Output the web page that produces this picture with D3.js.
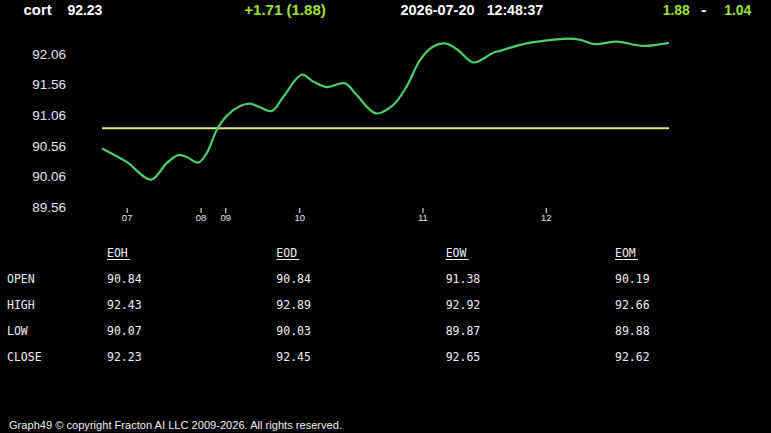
<!DOCTYPE html>
<html>
<head>
<meta charset="utf-8">
<script src="https://cdn.jsdelivr.net/npm/d3@7/dist/d3.min.js"></script>
<style>
html,body{margin:0;padding:0;background:#000;}
svg{display:block;}
</style>
</head>
<body>
<svg id="chart" width="771" height="433"></svg>
<script>
// ---- data ----
const symbol = "cort";
const lastPrice = "92.23";
const change = "+1.71  (1.88)";
const dateStr = "2026-07-20";
const timeStr = "12:48:37";
const rangeLeft = "1.88";
const rangeRight = "1.04";

// x positions are in session-bar units (compressed intraday time)
const seriesX = [0, 2.0, 3.98, 5.25, 6.19, 6.87, 7.81, 8.49, 9.31, 10.12, 11.2, 12.0, 12.82, 13.77, 14.71, 16.2, 17.14, 18.23, 19.71, 20.66, 22.23, 23.63, 24.72, 25.8, 26.88, 27.83, 28.9, 30.12, 31.75, 32.29, 34.18, 36.08, 37.83, 38.78, 40.0, 41.76, 43.91, 46];
const seriesY = [90.51, 90.29, 90.00, 90.27, 90.40, 90.37, 90.28, 90.43, 90.81, 91.04, 91.20, 91.24, 91.18, 91.12, 91.35, 91.71, 91.60, 91.51, 91.57, 91.38, 91.08, 91.22, 91.52, 91.95, 92.17, 92.22, 92.11, 91.91, 92.07, 92.10, 92.21, 92.27, 92.30, 92.28, 92.21, 92.25, 92.18, 92.23];
const refLevel = 90.84;

const yTicks = [89.56, 90.06, 90.56, 91.06, 91.56, 92.06];
const xTickPos = [2, 8, 10, 16, 26, 36];
const xTickLabels = ["07", "08", "09", "10", "11", "12"];

const tableRows = ["OPEN", "HIGH", "LOW", "CLOSE"];
const tableCols = ["EOH", "EOD", "EOW", "EOM"];
const colEOH = [90.84, 92.43, 90.07, 92.23];
const colEOD = [90.84, 92.89, 90.03, 92.45];
const colEOW = [91.38, 92.92, 89.87, 92.65];
const colEOM = [90.19, 92.66, 89.88, 92.62];
const tableValues = [colEOH, colEOD, colEOW, colEOM];

const footer = "Graph49 \u00A9 copyright Fracton AI LLC 2009-2026. All rights reserved.";

// ---- drawing ----
const svg = d3.select("#chart");
svg.append("rect").attr("width", 771).attr("height", 433).attr("fill", "#000");

const x = d3.scaleLinear().domain([0, 46]).range([102, 669]);
const y = d3.scaleLinear().domain([89.56, 92.56]).range([206.7, 22.6]);

const GREEN_TXT = "#9fe22e";
const hdrFont = "'Liberation Sans', Arial, sans-serif";

// header
function hText(t, x0, w, color) {
  svg.append("text").attr("x", x0).attr("y", 14.6)
    .attr("font-family", hdrFont).attr("font-weight", "bold").attr("font-size", 15)
    .attr("fill", color).attr("textLength", w).attr("lengthAdjust", "spacingAndGlyphs")
    .text(t);
}
hText(symbol, 23.6, 28, "#fff");
hText(lastPrice, 67.4, 35, "#fff");
hText(change, 244.3, 81.5, GREEN_TXT);
hText(dateStr, 400.5, 74, "#fff");
hText(timeStr, 486.7, 56.5, "#fff");
hText(rangeLeft, 662.7, 27, GREEN_TXT);
hText("-", 701, 5.5, "#fff");
hText(rangeRight, 724.2, 27, GREEN_TXT);

// y axis labels
const yAxis = d3.axisLeft(y).tickValues(yTicks).tickSize(0).tickPadding(0)
  .tickFormat(d3.format(".2f"));
const gy = svg.append("g").attr("transform", "translate(66,0)").call(yAxis);
gy.select(".domain").remove();
gy.selectAll("text").attr("fill", "#e6e6e6").attr("font-size", 13.5)
  .attr("font-family", hdrFont).attr("dy", "0.35em");

// x axis
const xAxis = d3.axisBottom(x).tickValues(xTickPos).tickSize(5).tickPadding(1)
  .tickFormat((d, i) => xTickLabels[i]);
const gx = svg.append("g").attr("transform", "translate(0,208)").call(xAxis);
gx.select(".domain").remove();
gx.selectAll("line").attr("stroke", "#fff").attr("stroke-width", 1);
gx.selectAll("text").attr("fill", "#e6e6e6").attr("font-size", 9.5)
  .attr("font-family", hdrFont);

// reference line
svg.append("line")
  .attr("x1", x(0)).attr("x2", x(46))
  .attr("y1", y(refLevel)).attr("y2", y(refLevel))
  .attr("stroke", "#d6ec80").attr("stroke-width", 2);

// price line
const pts = seriesX.map((d, i) => [d, seriesY[i]]);
const line = d3.line().x(d => x(d[0])).y(d => y(d[1])).curve(d3.curveCatmullRom.alpha(0.5));
svg.append("path").attr("d", line(pts)).attr("fill", "none")
  .attr("stroke", "#4ccd6a").attr("stroke-width", 2.2);

// table
const monoFont = "'DejaVu Sans Mono', 'Liberation Mono', monospace";
const colX = d3.scalePoint().domain(tableCols).range([107, 615]);
const rowY = d3.scalePoint().domain(tableRows).range([279, 357]);
const tbl = svg.append("g").attr("font-family", monoFont).attr("font-size", 11.5).attr("fill", "#f0f0f0");
tableCols.forEach((c, ci) => {
  tbl.append("text").attr("x", colX(c)).attr("y", 253).attr("dy", "0.35em").text(c);
  tbl.append("line").attr("x1", colX(c)).attr("x2", colX(c) + 23)
    .attr("y1", 259.5).attr("y2", 259.5).attr("stroke", "#f0f0f0").attr("stroke-width", 1);
  tableRows.forEach((r, ri) => {
    tbl.append("text").attr("x", colX(c)).attr("y", rowY(r)).attr("dy", "0.35em")
      .text(tableValues[ci][ri].toFixed(2));
  });
});
tableRows.forEach(r => {
  tbl.append("text").attr("x", 7).attr("y", rowY(r)).attr("dy", "0.35em").text(r);
});

// footer
svg.append("text").attr("x", 9).attr("y", 429)
  .attr("font-family", hdrFont).attr("font-size", 11).attr("fill", "#f0f0f0")
  .attr("textLength", 333).attr("lengthAdjust", "spacingAndGlyphs")
  .text(footer);
</script>
</body>
</html>
